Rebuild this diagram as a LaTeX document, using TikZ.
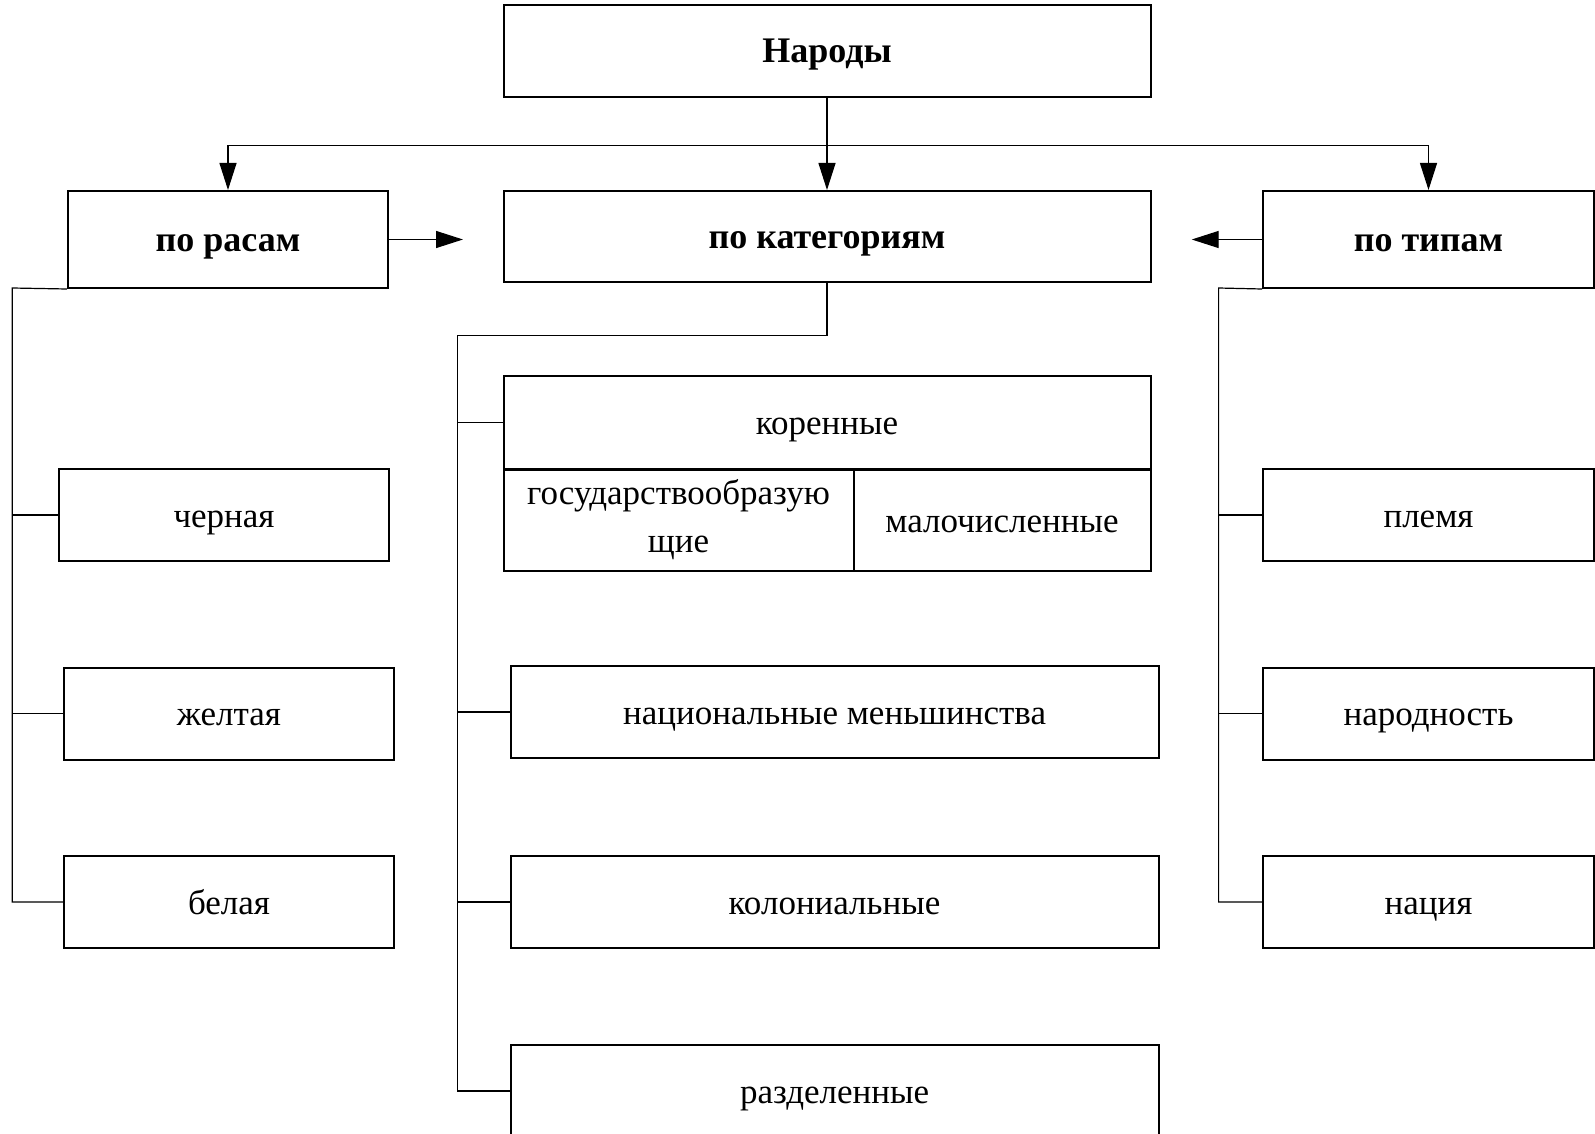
\documentclass[tikz,border=0pt]{standalone}
\usepackage{fontspec}
\setmainfont{Liberation Serif}
\usetikzlibrary{arrows.meta}

\tikzset{
  box/.style={draw, line width=2pt, inner sep=0pt,
    font=\fontsize{35}{48}\selectfont, text height=26pt, text depth=2pt},
  cell/.style={draw, line width=2pt, inner sep=0pt, align=center,
    font=\fontsize{35}{48}\selectfont},
  head/.style={box, font=\fontsize{36}{48}\selectfont\bfseries},
  link/.style={line width=1.2pt},
  arr/.style={link, -{Triangle[length=27pt,width=17pt]}}
}

\begin{document}
\begin{tikzpicture}[x=1pt,y=-1pt]
    \clip (0,0) rectangle (1595,1134);
    \fill[white] (0,0) rectangle (1595,1134);
    % headings
    \node[head, minimum width=647pt, minimum height=92pt] (narody) at (827,51) {Народы};
    \node[head, minimum width=320pt, minimum height=97pt] (rasy)   at (228,239.5) {по расам};
    \node[head, minimum width=647pt, minimum height=91pt] (kateg)  at (827,236.5) {по категориям};
    \node[head, minimum width=331pt, minimum height=97pt] (tipy)   at (1428.5,239.5) {по типам};
    \coordinate (topbus) at (827,145.7);
    \coordinate (rasend) at (463,239.5);
    \coordinate (tipend) at (1191.7,239.5);
    \draw[arr] (narody.south) -- (kateg.north);
    \draw[arr] (topbus) -| (rasy.north);
    \draw[arr] (topbus) -| (tipy.north);
    \draw[arr] (rasy.east) -- (rasend);
    \draw[arr] (tipy.west) -- (tipend);
    % races
    \foreach \name/\txt/\x/\y in {chernaya/черная/224/515, zheltaya/желтая/229/713.5, belaya/белая/229/902}{%
        \node[box, minimum width=330pt, minimum height=92pt] (\name) at (\x,\y) {\txt};
    }
    \coordinate (rasbus) at (12.2,288);
    \draw[link] (rasy.south west) -- (rasbus) |- (belaya.west);
    \foreach \name in {chernaya,zheltaya}{%
        \draw[link] (\name.west) -- (rasbus |- \name.west);
    }
    % categories
    \node[box, minimum width=647pt, minimum height=93pt]   (korennye) at (827,422.5) {коренные};
    \node[cell, minimum width=350pt, minimum height=101pt] (gosud)    at (678.5,520) {государствообразую\\щие};
    \node[box, minimum width=297pt, minimum height=101pt]  (maloch)   at (1002,520) {малочисленные};
    \foreach \name/\txt/\y in {natsmen/национальные меньшинства/712, kolon/колониальные/902, razdel/разделенные/1091}{%
        \node[box, minimum width=648pt, minimum height=92pt] (\name) at (834.6,\y) {\txt};
    }
    \coordinate (katbus) at (457.7,335.7);
    \draw[link] (kateg.south) |- (katbus) |- (razdel.west);
    \foreach \name in {korennye,natsmen,kolon}{%
        \draw[link] (\name.west) -- (katbus |- \name.west);
    }
    % types
    \foreach \name/\txt/\y in {plemya/племя/515, narodnost/народность/713.5, natsiya/нация/902}{%
        \node[box, minimum width=331pt, minimum height=92pt] (\name) at (1428.5,\y) {\txt};
    }
    \coordinate (tipbus) at (1218.6,288);
    \draw[link] (tipy.south west) -- (tipbus) |- (natsiya.west);
    \foreach \name in {plemya,narodnost}{%
        \draw[link] (\name.west) -- (tipbus |- \name.west);
    }
\end{tikzpicture}
\end{document}
